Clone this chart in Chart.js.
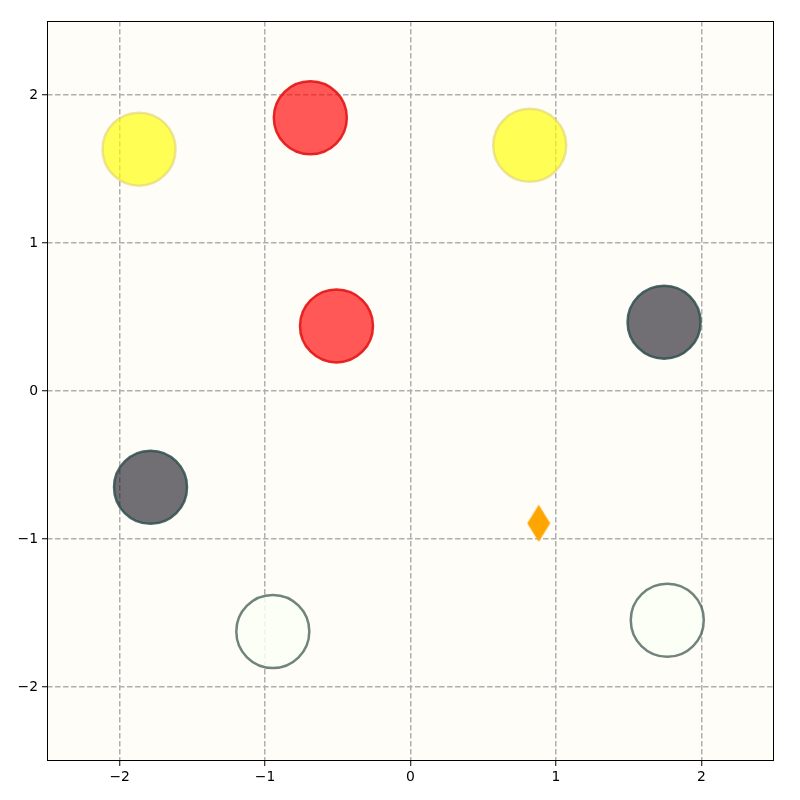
<!DOCTYPE html>
<html>
<head>
<meta charset="utf-8">
<script src="https://cdn.jsdelivr.net/npm/chart.js@4.4.1/dist/chart.umd.min.js"></script>
<style>
html,body{margin:0;padding:0;background:#ffffff;}
canvas{display:block;}
</style>
</head>
<body>
<canvas id="c" width="800" height="800"></canvas>
<script>
// ---- data ----
const tickValues = [-2, -1, 0, 1, 2];
const yellowX = [-1.867, 0.820];
const yellowY = [1.634, 1.660];
const redX = [-0.689, -0.509];
const redY = [1.846, 0.440];
const darkX = [1.744, -1.788];
const darkY = [0.465, -0.650];
const whiteX = [-0.947, 1.766];
const whiteY = [-1.625, -1.549];
const diamondX = [0.882];
const diamondY = [-0.894];

function pts(xs, ys){ return xs.map((x,i)=>({x:x, y:ys[i]})); }

// thin diamond marker
const dia = document.createElement('canvas');
dia.width = 24; dia.height = 38;
(function(){
  const g = dia.getContext('2d');
  g.fillStyle = '#ffa500';
  g.beginPath();
  g.moveTo(12, 0.5); g.lineTo(23.5, 19); g.lineTo(12, 37.5); g.lineTo(0.5, 19);
  g.closePath(); g.fill();
})();

const bgPlugin = {
  id: 'bgPlugin',
  beforeDraw(chart){
    const {ctx, chartArea:a} = chart;
    ctx.save();
    ctx.fillStyle = '#fefdf8';
    ctx.fillRect(a.left, a.top, a.right-a.left, a.bottom-a.top);
    ctx.restore();
  },
  afterDraw(chart){
    const {ctx, chartArea:a} = chart;
    ctx.save();
    ctx.strokeStyle = '#000';
    ctx.lineWidth = 1;
    ctx.setLineDash([]);
    ctx.strokeRect(Math.round(a.left)+0.5, Math.round(a.top)+0.5, Math.round(a.right-a.left)-1, Math.round(a.bottom-a.top)-1);
    ctx.restore();
  }
};

const R = 36.5, BW = 2.5;
const fmt = v => String(v).replace('-', '\u2212');
const font = {family: '"DejaVu Sans", sans-serif', size: 13.9};
const gridOpts = {
  color: '#b0b0b0', lineWidth: 1.5,
  drawTicks: true, tickLength: 5, tickColor: '#000', tickWidth: 1, tickBorderDash: []
};
const borderOpts = {display: false, color: '#000', width: 1, dash: [5.5, 2.5]};

new Chart(document.getElementById('c'), {
  type: 'scatter',
  data: {
    datasets: [
      {data: pts(yellowX, yellowY), backgroundColor: 'rgba(255,255,0,0.66)', borderColor: 'rgba(225,210,110,0.6)', borderWidth: BW, pointRadius: R, pointHoverRadius: R},
      {data: pts(redX, redY), backgroundColor: 'rgba(255,0,0,0.65)', borderColor: 'rgba(228,20,20,0.9)', borderWidth: BW, pointRadius: R, pointHoverRadius: R},
      {data: pts(darkX, darkY), backgroundColor: 'rgba(18,16,26,0.6)', borderColor: 'rgba(47,79,79,0.85)', borderWidth: BW, pointRadius: R, pointHoverRadius: R},
      {data: pts(whiteX, whiteY), backgroundColor: 'rgba(252,255,245,0.85)', borderColor: 'rgba(65,90,84,0.75)', borderWidth: BW, pointRadius: R, pointHoverRadius: R},
      {data: pts(diamondX, diamondY), pointStyle: dia, pointRadius: 19}
    ]
  },
  options: {
    responsive: false,
    animation: false,
    events: [],
    layout: {autoPadding: false, padding: {top: 21, right: 26, left: 0, bottom: 0}},
    plugins: {legend: {display: false}, tooltip: {enabled: false}},
    scales: {
      x: {
        type: 'linear', min: -2.5, max: 2.5,
        afterBuildTicks: s => { s.ticks = tickValues.map(v => ({value: v})); },
        afterFit: s => { s.height = 39; },
        grid: gridOpts,
        border: borderOpts,
        ticks: {color: '#000', font: font, padding: 3, maxRotation: 0, callback: v => fmt(v)}
      },
      y: {
        type: 'linear', min: -2.5, max: 2.5,
        afterBuildTicks: s => { s.ticks = tickValues.map(v => ({value: v})); },
        afterFit: s => { s.width = 47; },
        grid: gridOpts,
        border: borderOpts,
        ticks: {color: '#000', font: font, padding: 4, callback: v => fmt(v)}
      }
    }
  },
  plugins: [bgPlugin]
});
</script>
</body>
</html>
